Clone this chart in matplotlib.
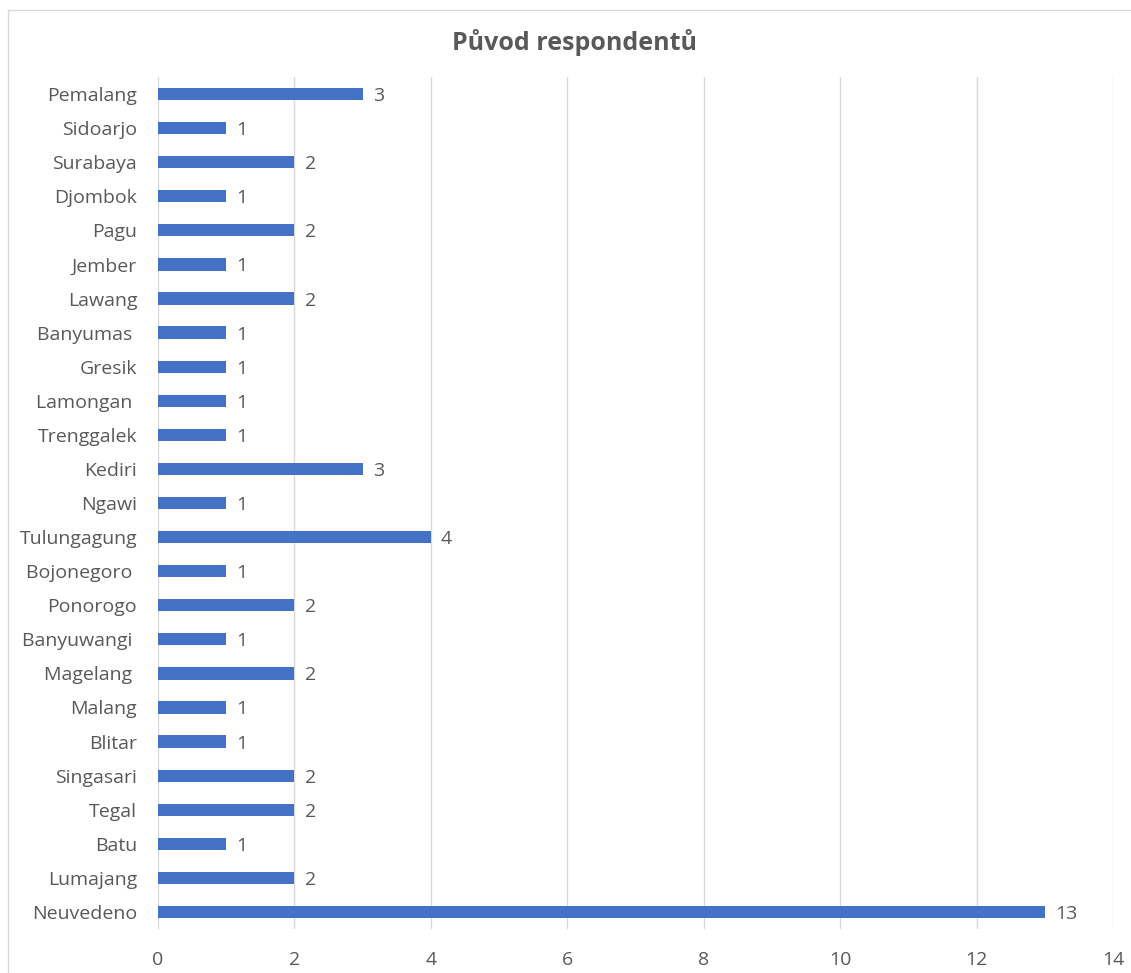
import matplotlib
matplotlib.use("Agg")
import matplotlib.pyplot as plt
from matplotlib.patches import Rectangle

categories = ["Pemalang", "Sidoarjo", "Surabaya", "Djombok", "Pagu", "Jember", "Lawang",
              "Banyumas ", "Gresik", "Lamongan ", "Trenggalek", "Kediri", "Ngawi",
              "Tulungagung", "Bojonegoro ", "Ponorogo", "Banyuwangi ", "Magelang ",
              "Malang", "Blitar", "Singasari", "Tegal", "Batu", "Lumajang", "Neuvedeno"]
values = [3, 1, 2, 1, 2, 1, 2, 1, 1, 1, 1, 3, 1, 4, 1, 2, 1, 2, 1, 1, 2, 2, 1, 2, 13]
xticks = [0, 2, 4, 6, 8, 10, 12, 14]
title = "Původ respondentů"

plt.rcParams['font.family'] = ['Open Sans', 'DejaVu Sans']
text_color = "#595959"
bar_color = "#4472C4"
grid_color = "#D9D9D9"

fig = plt.figure(figsize=(11.31, 9.73), dpi=100)
fig.patches.append(Rectangle((8/1131, -0.01), 1.2, 1 - 10/973 + 0.01, transform=fig.transFigure,
                             fill=False, edgecolor=grid_color, linewidth=1.0))
ax = fig.add_axes([158/1131, 44/973, 955/1131, 852/973])

y = list(range(len(categories)))[::-1]
ax.barh(y, values, height=0.36, color=bar_color, zorder=3)
for yi, v in zip(y, values):
    ax.text(v + 0.15, yi, str(v), va='center_baseline', ha='left', fontsize=14, color=text_color)

ax.set_xlim(0, 14)
ax.set_ylim(-0.5, len(categories) - 0.5)
ax.set_xticks(xticks)
ax.set_xticklabels([str(t) for t in xticks])
ax.set_yticks(y)
ax.set_yticklabels(categories)
ax.tick_params(axis='both', length=0, labelsize=14, labelcolor=text_color)
ax.tick_params(axis='x', pad=16)
ax.tick_params(axis='y', pad=15)
for s in ax.spines.values():
    s.set_visible(False)
ax.xaxis.grid(True, color=grid_color, linewidth=1.0, zorder=0)
ax.set_axisbelow(True)

fig.text(575/1131, 1 - 43/973, title, ha='center', va='center', fontsize=18,
         fontweight='bold', color=text_color)

fig.savefig("out.png", dpi=100)
